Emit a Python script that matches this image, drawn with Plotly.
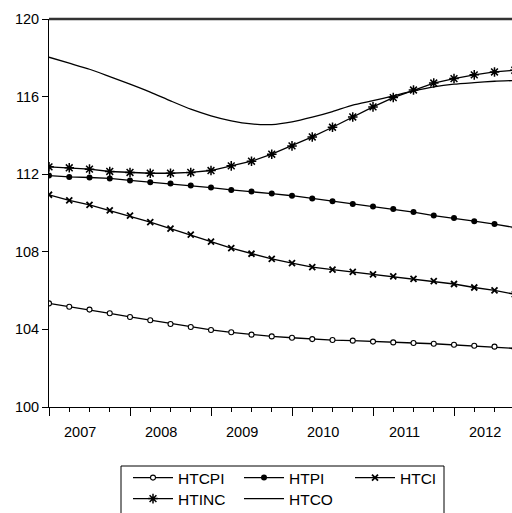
import plotly.graph_objects as go

quarters = [f"{y}Q{q}" for y in range(2007, 2013) for q in range(1, 5)]
year_labels = ["2007", "2008", "2009", "2010", "2011", "2012"]

htcpi = [105.34, 105.17, 105.02, 104.83, 104.64, 104.47, 104.28, 104.12, 103.97, 103.85,
         103.73, 103.64, 103.57, 103.50, 103.45, 103.42, 103.37, 103.33, 103.30, 103.26,
         103.21, 103.16, 103.11, 103.02]
htpi = [111.93, 111.86, 111.83, 111.78, 111.68, 111.59, 111.52, 111.42, 111.31, 111.19,
        111.11, 111.00, 110.89, 110.75, 110.61, 110.47, 110.33, 110.20, 110.05, 109.87,
        109.74, 109.58, 109.43, 109.25]
htci = [110.94, 110.65, 110.42, 110.13, 109.86, 109.53, 109.20, 108.88, 108.53, 108.19,
        107.90, 107.63, 107.42, 107.21, 107.08, 106.96, 106.84, 106.73, 106.61, 106.49,
        106.34, 106.16, 106.01, 105.81]
htinc = [112.38, 112.33, 112.26, 112.14, 112.09, 112.05, 112.05, 112.09, 112.19, 112.43,
         112.67, 113.03, 113.46, 113.92, 114.42, 114.95, 115.47, 115.95, 116.34, 116.70,
         116.93, 117.12, 117.27, 117.36]
htco = [118.03, 117.72, 117.41, 117.03, 116.64, 116.23, 115.78, 115.35, 115.01, 114.75,
        114.59, 114.56, 114.70, 114.94, 115.23, 115.56, 115.79, 116.04, 116.29, 116.50,
        116.64, 116.72, 116.79, 116.83]

x = list(range(len(quarters)))
FONT = "Liberation Sans, Arial, sans-serif"
PLOT_L, PLOT_T, PLOT_W, PLOT_H = 49, 19, 463, 388

fig = go.Figure()
lw = 1.3
fig.add_trace(go.Scatter(x=x, y=htcpi, name="HTCPI", mode="lines+markers",
                         line=dict(color="black", width=lw),
                         marker=dict(symbol="circle", size=5, color="white",
                                     line=dict(color="black", width=1.1))))
fig.add_trace(go.Scatter(x=x, y=htpi, name="HTPI", mode="lines+markers",
                         line=dict(color="black", width=lw),
                         marker=dict(symbol="circle", size=6, color="black")))
fig.add_trace(go.Scatter(x=x, y=htci, name="HTCI", mode="lines+markers",
                         line=dict(color="black", width=lw),
                         marker=dict(symbol="x-thin-open", size=6,
                                     line=dict(color="black", width=1.8))))
fig.add_trace(go.Scatter(x=x, y=htinc, name="HTINC", mode="lines+markers", legend="legend2",
                         line=dict(color="black", width=lw),
                         marker=dict(symbol="asterisk-open", size=8,
                                     line=dict(color="black", width=1.5))))
fig.add_trace(go.Scatter(x=x, y=htco, name="HTCO", mode="lines", legend="legend2",
                         line=dict(color="black", width=lw, shape="spline", smoothing=0.6)))

major = [i for i in x if i % 4 == 0]
fig.update_xaxes(range=[0, PLOT_W / 20.25], tickvals=major, ticktext=["" for _ in major],
                 ticks="outside", ticklen=8, tickcolor="black", tickwidth=1,
                 minor=dict(dtick=1, tick0=0, ticks="outside", ticklen=4,
                            tickcolor="black", tickwidth=1),
                 showline=True, linecolor="black", linewidth=1,
                 showgrid=False, zeroline=False, fixedrange=True, automargin=False)
fig.update_yaxes(range=[100, 120], tickvals=[100, 104, 108, 112, 116, 120],
                 ticks="outside", ticklen=6, tickcolor="black",
                 showline=True, linecolor="black", linewidth=1,
                 showgrid=False, zeroline=False, automargin=False,
                 tickfont=dict(family=FONT, size=14.5, color="black"))

for k, lab in enumerate(year_labels):
    fig.add_annotation(x=1.55 + 4 * k, y=0, xref="x", yref="paper", text=lab,
                       showarrow=False, yanchor="top", yshift=-15,
                       font=dict(family=FONT, size=14.5, color="black"))

fig.add_shape(type="line", xref="paper", yref="paper", x0=0, x1=1, y0=1, y1=1,
              line=dict(color="#333333", width=2.5))
# legend frame
fig.add_shape(type="rect", xref="paper", yref="paper",
              x0=(121 - PLOT_L) / PLOT_W, x1=(444 - PLOT_L) / PLOT_W,
              y0=(PLOT_T + PLOT_H - 466) / PLOT_H, y1=(PLOT_T + PLOT_H - 530) / PLOT_H,
              line=dict(color="black", width=1), fillcolor="rgba(0,0,0,0)")

leg_common = dict(orientation="h", xanchor="left", yanchor="middle", yref="paper",
                  borderwidth=0, bgcolor="rgba(0,0,0,0)",
                  entrywidth=56, entrywidthmode="pixels",
                  font=dict(family=FONT, size=15.5, color="black"),
                  tracegroupgap=0, itemwidth=40)
lx = (128 - PLOT_L) / PLOT_W
fig.update_layout(
    width=512, height=513,
    margin=dict(l=PLOT_L, r=512 - PLOT_L - PLOT_W, t=PLOT_T, b=513 - PLOT_T - PLOT_H,
                autoexpand=False),
    plot_bgcolor="white", paper_bgcolor="white",
    font=dict(family=FONT, size=14.5, color="black"),
    legend=dict(**leg_common, x=lx, y=(PLOT_T + PLOT_H - 478) / PLOT_H),
    legend2=dict(**leg_common, x=lx, y=(PLOT_T + PLOT_H - 499) / PLOT_H),
)

fig.write_html("out.html", config={"displayModeBar": False},
               post_script="document.body.style.margin='0px';")
